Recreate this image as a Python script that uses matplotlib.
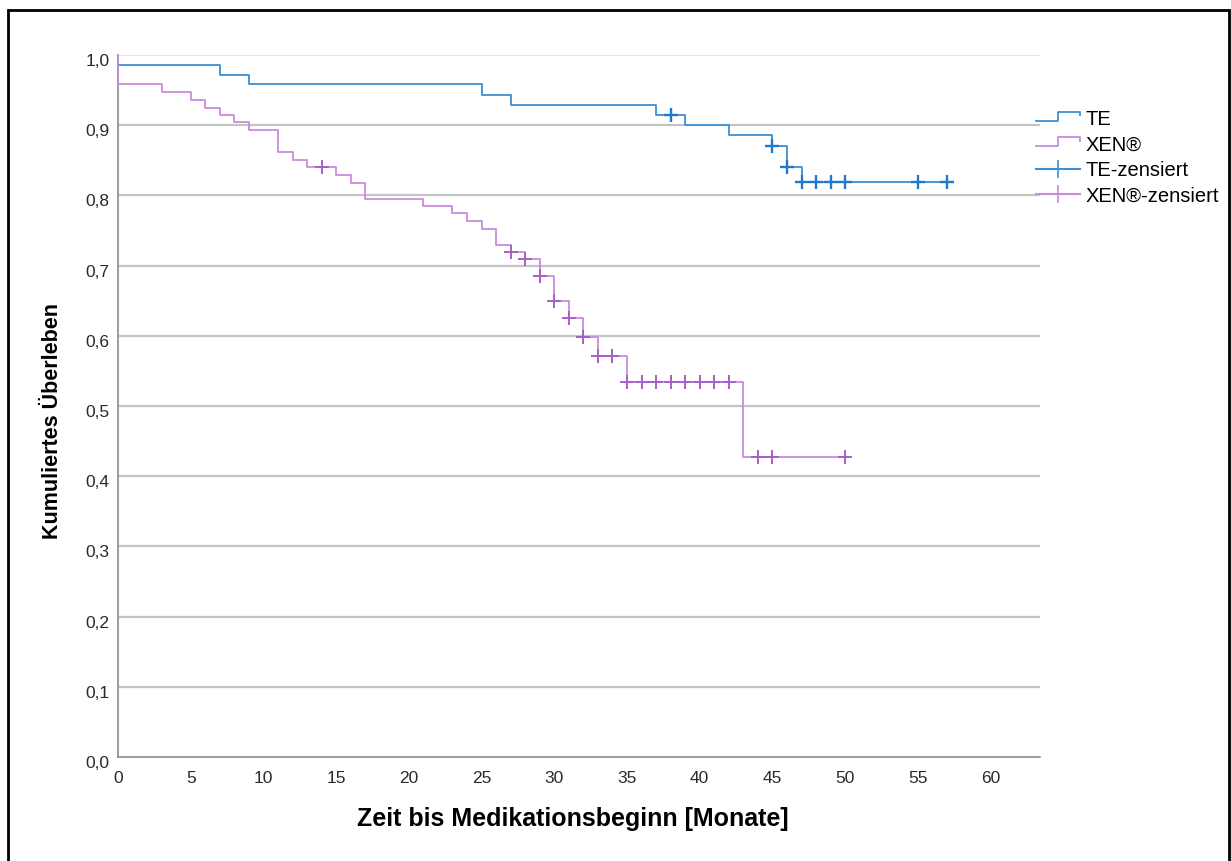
import matplotlib.pyplot as plt
import numpy as np
from matplotlib.legend_handler import HandlerBase
from matplotlib.lines import Line2D
from matplotlib.patches import Rectangle
from matplotlib.transforms import ScaledTranslation

plt.rcParams["font.family"] = ["Liberation Sans", "DejaVu Sans"]

# Kaplan-Meier step data
te_times = [0, 7, 9, 25, 27, 37, 39, 42, 45, 46, 47]
te_surv = [0.986, 0.972, 0.958, 0.943, 0.929, 0.915, 0.900, 0.886, 0.871, 0.840, 0.819]
te_end = 57
te_censored = [38, 45, 46, 47, 48, 49, 50, 55, 57]

xen_times = [0, 3, 5, 6, 7, 8, 9, 11, 12, 13, 15, 16, 17, 21, 23, 24, 25, 26,
             27, 28, 29, 30, 31, 32, 33, 35, 43]
xen_surv = [0.958, 0.948, 0.936, 0.925, 0.914, 0.904, 0.893, 0.862, 0.851, 0.840,
            0.829, 0.817, 0.795, 0.785, 0.775, 0.764, 0.752, 0.730, 0.719, 0.709,
            0.685, 0.649, 0.625, 0.599, 0.571, 0.534, 0.428]
xen_end = 50
xen_censored = [14, 27, 28, 29, 30, 31, 32, 33, 34, 35, 36, 37, 38, 39, 40, 41,
                42, 44, 45, 50]

y_ticks = [0.0, 0.1, 0.2, 0.3, 0.4, 0.5, 0.6, 0.7, 0.8, 0.9, 1.0]
x_ticks = [0, 5, 10, 15, 20, 25, 30, 35, 40, 45, 50, 55, 60]

TE_COLOR = "#3d8fd1"
TE_MARK = "#1f78c8"
XEN_COLOR = "#c98bdb"
XEN_MARK = "#a95fc9"


def step_xy(times, surv, end):
    xs = [0.0] + list(times) + [end]
    ys = [1.0] + list(surv) + [surv[-1]]
    return xs, ys


def level_at(times, surv, t):
    idx = np.searchsorted(times, t, side="right") - 1
    return surv[idx]


class StepHandler(HandlerBase):
    def create_artists(self, legend, orig_handle, xdescent, ydescent,
                       width, height, fontsize, trans):
        x0 = -xdescent
        y0 = -ydescent
        xs = [x0, x0 + 0.5 * width, x0 + 0.5 * width, x0 + width, x0 + width]
        ys = [y0 + 0.3 * height, y0 + 0.3 * height, y0 + 0.95 * height,
              y0 + 0.95 * height, y0 + 0.7 * height]
        line = Line2D(xs, ys, color=orig_handle.get_color(), lw=1.3,
                      transform=trans)
        return [line]


fig = plt.figure(figsize=(12.31, 8.61), dpi=100)
ax = fig.add_axes([118 / 1231, 1 - 757 / 861, (1040 - 118) / 1231, (757 - 55) / 861])

for yv in y_ticks[1:-1]:
    ax.axhline(yv, color="#c4c4c4", lw=1.6, zorder=1)
ax.axhline(1.0, color="#e8e4d8", lw=1.6, zorder=1)

xs, ys = step_xy(te_times, te_surv, te_end)
ax.step(xs, ys, where="post", color=TE_COLOR, lw=1.3, zorder=3)
xs, ys = step_xy(xen_times, xen_surv, xen_end)
ax.step(xs, ys, where="post", color=XEN_COLOR, lw=1.3, zorder=3)

te_cy = [level_at(te_times, te_surv, t) for t in te_censored]
ax.plot(te_censored, te_cy, ls="none", marker="+", ms=10, mew=1.7,
        color=TE_MARK, zorder=4)
xen_cy = [level_at(xen_times, xen_surv, t) for t in xen_censored]
ax.plot(xen_censored, xen_cy, ls="none", marker="+", ms=10, mew=1.4,
        color=XEN_MARK, zorder=4)

ax.set_xlim(0, 63.4)
ax.set_ylim(0, 1.0)
ax.set_xticks(x_ticks)
ax.set_yticks(y_ticks)
ax.set_yticklabels([f"{v:.1f}".replace(".", ",") for v in y_ticks])
ax.tick_params(axis="both", length=0, labelsize=12.5, colors="#2a2a2a")
ax.tick_params(axis="x", pad=10)
ax.tick_params(axis="y", pad=6)
shift = ScaledTranslation(0, -5 / 100, fig.dpi_scale_trans)
for lab in ax.get_yticklabels():
    lab.set_transform(lab.get_transform() + shift)
for side in ["top", "right"]:
    ax.spines[side].set_visible(False)
for side in ["left", "bottom"]:
    ax.spines[side].set_color("#8c8c8c")
    ax.spines[side].set_linewidth(1.2)

ax.set_xlabel("Zeit bis Medikationsbeginn [Monate]", fontsize=18,
              fontweight="bold")
ax.xaxis.set_label_coords(0.4935, -0.071)
ax.set_ylabel("Kumuliertes Überleben", fontsize=15.5, fontweight="bold")
ax.yaxis.set_label_coords(-0.0597, 0.4786)

handles = [
    Line2D([], [], color=TE_COLOR),
    Line2D([], [], color=XEN_COLOR),
    Line2D([], [], color=TE_COLOR, marker="+", ms=13, mew=1.2),
    Line2D([], [], color=XEN_COLOR, marker="+", ms=13, mew=1.2),
]
labels = ["TE", "XEN®", "TE-zensiert", "XEN®-zensiert"]
fig.legend(handles, labels, loc="upper left",
           bbox_to_anchor=(1036 / 1231, 1 - 110 / 861), frameon=False,
           fontsize=14.5, handlelength=2.2, handletextpad=0.25,
           labelspacing=0.32, borderaxespad=0, borderpad=0,
           handler_map={handles[0]: StepHandler(), handles[1]: StepHandler()})

fig.add_artist(Rectangle((8 / 1231, -0.05), (1229 - 8) / 1231, 1.05 - 10 / 861,
                         transform=fig.transFigure, fill=False,
                         edgecolor="black", lw=2))

fig.savefig("out.png", dpi=100)
